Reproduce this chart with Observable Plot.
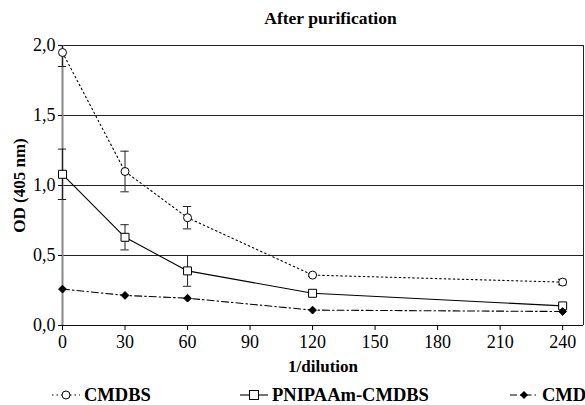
<!DOCTYPE html>
<html><head><meta charset="utf-8">
<script src="https://cdn.jsdelivr.net/npm/d3@7"></script>
<script src="https://cdn.jsdelivr.net/npm/@observablehq/plot@0.6"></script>
<style>
body{margin:0;background:#fff;font-family:"Liberation Serif",serif;}
#wrap{position:relative;width:585px;height:405px;overflow:hidden;}
#title{position:absolute;top:8px;left:0;width:585px;padding-left:76px;box-sizing:border-box;text-align:center;font-weight:bold;font-size:17.5px;}
#chart{position:absolute;top:30px;left:0;}
#chart svg{font-family:"Liberation Serif",serif !important;}
#chart svg text{font-family:"Liberation Serif",serif;}
#chart svg [aria-label="x-axis label"] text,#chart svg [aria-label="y-axis label"] text,
#chart svg [aria-label="x-axis label"],#chart svg [aria-label="y-axis label"]{font-weight:bold;font-size:17px;}
.leg{position:absolute;top:385px;height:20px;display:flex;align-items:center;font-weight:bold;font-size:18.5px;}
.leg svg{margin-right:4px;}
</style></head>
<body><div id="wrap"><div id="title">After purification</div><div id="chart"></div><div id="legend"></div></div>
<script>
const dilution = [0, 30, 60, 120, 240];
const cmdbsOD = [1.95, 1.10, 0.77, 0.36, 0.31];
const cmdbsErr = [0.10, 0.145, 0.08, 0.01, 0.02];
const pnipaamOD = [1.08, 0.63, 0.39, 0.23, 0.14];
const pnipaamErr = [0.18, 0.09, 0.11, 0.01, 0.01];
const cmdOD = [0.26, 0.215, 0.195, 0.11, 0.10];
const cmdErr = [0, 0, 0, 0, 0];
const seriesNames = ["CMDBS", "PNIPAAm-CMDBS", "CMD"];
const xTicks = [0, 30, 60, 90, 120, 150, 180, 210, 240];
const yTicks = [0, 0.5, 1.0, 1.5, 2.0];
const xMax = 250;

const styles = {
  "CMDBS": {dash: "1.5,3", symbol: "circle", fill: "white", r: 4},
  "PNIPAAm-CMDBS": {dash: null, symbol: "square", fill: "white", r: 4.5},
  "CMD": {dash: "7,3,1.5,3", symbol: "diamond2", fill: "black", r: 3.5}
};
const ods = [cmdbsOD, pnipaamOD, cmdOD];
const errs = [cmdbsErr, pnipaamErr, cmdErr];
const rows = [];
seriesNames.forEach((s, i) => dilution.forEach((x, j) => rows.push({series: s, x, y: ods[i][j], e: errs[i][j]})));
const errRows = rows.filter(d => d.e > 0);
const capHalf = 2;
const fmt = d => d3.format(".1f")(d).replace(".", ",");

const marks = [
  Plot.ruleY(yTicks.filter(v => v > 0), {stroke: "#222", strokeWidth: 1}),
  Plot.ruleX([xMax], {stroke: "#222", strokeWidth: 1}),
  Plot.ruleY([0], {stroke: "#111", strokeWidth: 1.2}),
  Plot.ruleX([0], {stroke: "#888", strokeWidth: 2}),
  Plot.ruleX(errRows, {x: "x", y1: d => d.y - d.e, y2: d => Math.min(2, d.y + d.e), stroke: "#222", strokeWidth: 1}),
  Plot.ruleY(errRows, {y: d => d.y - d.e, x1: d => d.x - capHalf, x2: d => d.x + capHalf, stroke: "#222"}),
  Plot.ruleY(errRows.filter(d => d.y + d.e <= 2), {y: d => d.y + d.e, x1: d => d.x - capHalf, x2: d => d.x + capHalf, stroke: "#222"})
];
seriesNames.forEach(s => {
  const st = styles[s];
  const data = rows.filter(d => d.series === s);
  marks.push(Plot.line(data, {x: "x", y: "y", stroke: "black", strokeWidth: 1.1, strokeDasharray: st.dash}));
  marks.push(Plot.dot(data, {x: "x", y: "y", symbol: () => st.symbol, r: st.r, fill: st.fill, stroke: "black", strokeWidth: 1}));
});
marks.push(Plot.axisX({ticks: xTicks, tickSize: 5, tickPadding: 5, tickFormat: d => String(d), label: "1/dilution", labelArrow: "none", labelAnchor: "center", labelOffset: 46, fontFamily: "Liberation Serif"}));
marks.push(Plot.axisY({ticks: yTicks, tickSize: 4, tickPadding: 3, tickFormat: fmt, label: "OD (405 nm)", labelArrow: "none", labelAnchor: "center", labelOffset: 50, fontFamily: "Liberation Serif"}));

const chart = Plot.plot({
  width: 585, height: 345,
  marginLeft: 62, marginRight: 2, marginTop: 15, marginBottom: 50,
  x: {domain: [0, xMax]},
  y: {domain: [0, 2]},
  style: {fontFamily: "'Liberation Serif', serif", fontSize: "18px", color: "black", background: "transparent"},
  marks
});
document.getElementById("chart").appendChild(chart);

// legend
const legPos = {"CMDBS": 52, "PNIPAAm-CMDBS": 240, "CMD": 510};
const leg = document.getElementById("legend");
seriesNames.forEach(s => {
  const st = styles[s];
  const div = document.createElement("div");
  div.className = "leg";
  div.style.left = legPos[s] + "px";
  let sym;
  if (st.symbol === "circle") sym = `<circle cx="14" cy="10" r="4" fill="white" stroke="black"/>`;
  else if (st.symbol === "square") sym = `<rect x="9.5" y="5.5" width="9" height="9" fill="white" stroke="black"/>`;
  else sym = `<path d="M14,6 L18,10 L14,14 L10,10Z" fill="black"/>`;
  div.innerHTML = `<svg width="28" height="20"><line x1="0" x2="28" y1="10" y2="10" stroke="black" stroke-width="1.1" ${st.dash ? `stroke-dasharray="${st.dash}"` : ""}/>${sym}</svg><span>${s}</span>`;
  leg.appendChild(div);
});
</script></body></html>
